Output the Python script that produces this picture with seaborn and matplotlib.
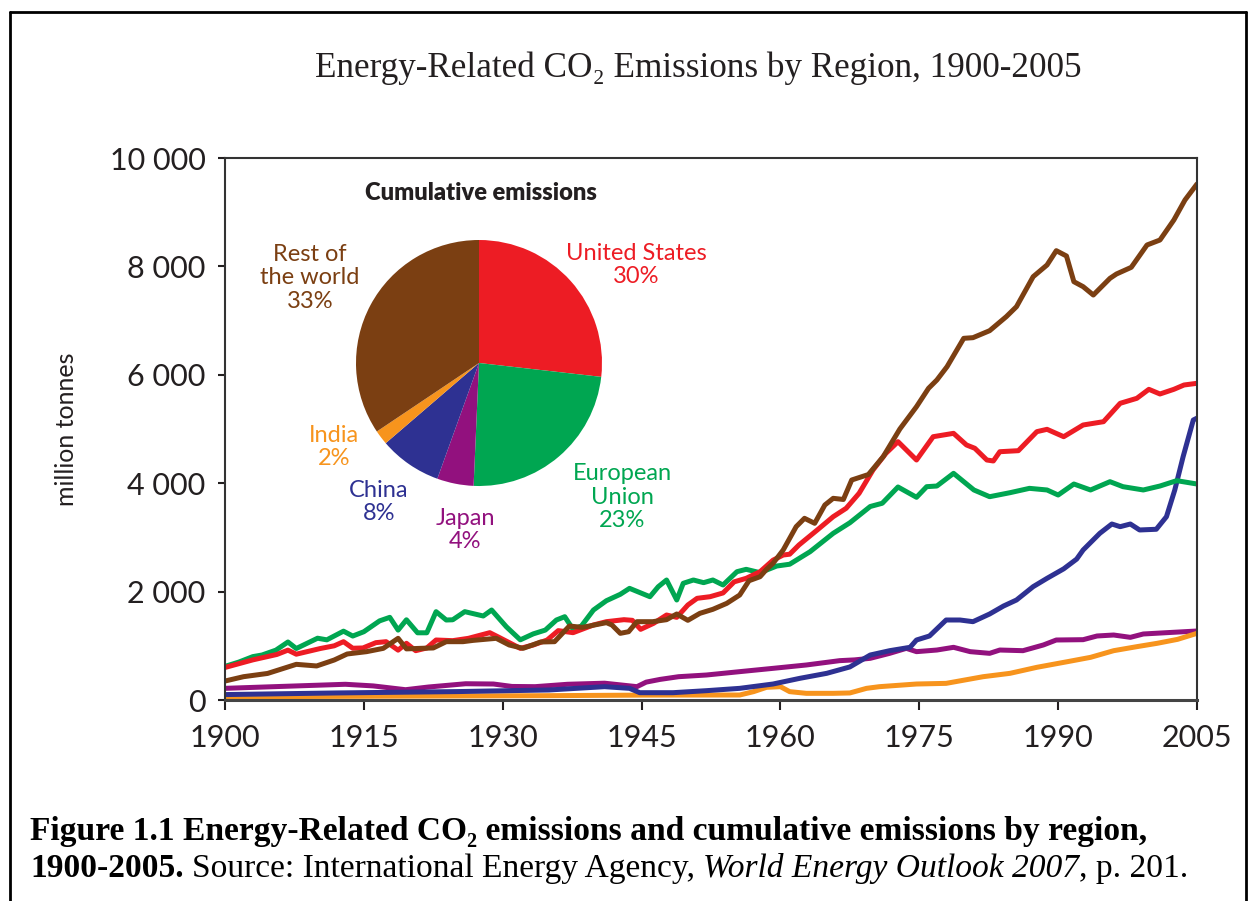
import numpy as np
import pandas as pd
import seaborn as sns
import matplotlib.pyplot as plt
from matplotlib.lines import Line2D

# annual energy-related CO2 emissions, million tonnes
us_years = [1900, 1903, 1905.6, 1906.8, 1907.7, 1910.3, 1911.8, 1912.8, 1913.8, 1914.9, 1916.3, 1917.4,
            1918.7, 1919.6, 1920.6, 1921.8, 1922.8, 1924.6, 1926.3, 1928.6, 1929.6, 1931.9, 1933.3, 1934.8,
            1936, 1937.6, 1939.8, 1941.2, 1943.1, 1944, 1944.9, 1946.3, 1947.7, 1948.8, 1950, 1951,
            1952.4, 1953.8, 1955, 1956.3, 1957.8, 1959.2, 1960.3, 1961, 1962, 1963, 1964, 1965.7, 1967.1,
            1968.5, 1970, 1971.4, 1972.7, 1974.7, 1976.5, 1978.7, 1980.1, 1981, 1982.3, 1983, 1983.7,
            1985.7, 1987.7, 1988.8, 1990.6, 1992.7, 1994.9, 1996.7, 1998.5, 1999.8, 2001, 2002.5, 2003.6, 2005]
us_vals = [600, 740, 840, 920, 845, 950, 1000, 1076, 955, 960, 1058, 1076,
           920, 1046, 910, 960, 1107, 1095, 1138, 1242, 1156, 953, 1015, 1107,
           1280, 1242, 1384, 1445, 1482, 1470, 1304, 1415, 1568, 1525, 1753, 1876,
           1906, 1975, 2180, 2245, 2367, 2580, 2675, 2690, 2860, 3000, 3140, 3382, 3537,
           3814, 4244, 4552, 4766, 4428, 4858, 4920, 4705, 4644, 4428, 4410, 4581,
           4600, 4951, 4994, 4858, 5074, 5135, 5474, 5566, 5732, 5646, 5732, 5812, 5843]

eu_years = [1900, 1901.5, 1903, 1904, 1905.5, 1906.8, 1907.7, 1910, 1911, 1912.8, 1913.8, 1915,
            1916.7, 1917.8, 1918.7, 1919.6, 1920.8, 1921.8, 1922.8, 1923.9, 1924.6, 1925.9, 1927.9,
            1928.8, 1930.4, 1931.9, 1933.3, 1934.6, 1935.8, 1936.7, 1937.6, 1938.5, 1939.8, 1941.2,
            1942.7, 1943.7, 1945.9, 1946.8, 1947.7, 1948.8, 1949.5, 1950.6, 1951.7, 1952.7, 1953.8,
            1955.3, 1956.3, 1957.8, 1959.6, 1961, 1963.2, 1965.7, 1967.5, 1969.7, 1971, 1972.7, 1974.7,
            1975.8, 1976.9, 1978.7, 1980.9, 1982.6, 1984.8, 1986.9, 1988.8, 1990, 1991.7, 1993.5,
            1995.6, 1997, 1999.2, 2001, 2002.8, 2005]
eu_vals = [620, 700, 800, 830, 920, 1070, 950, 1140, 1110, 1270, 1180, 1260,
           1460, 1525, 1290, 1480, 1240, 1240, 1630, 1476, 1480, 1630, 1550,
           1660, 1350, 1110, 1220, 1290, 1476, 1537, 1304, 1365, 1660, 1832,
           1950, 2060, 1906, 2090, 2214, 1845, 2153, 2214, 2165, 2214, 2122,
           2367, 2411, 2349, 2472, 2505, 2736, 3075, 3270, 3570, 3630, 3930, 3740,
           3936, 3948, 4182, 3875, 3751, 3825, 3905, 3875, 3782, 3985, 3875,
           4028, 3936, 3875, 3948, 4047, 3985]

row_years = [1900, 1902, 1904.6, 1907.7, 1909.9, 1911.8, 1913.2, 1915.3, 1917.1, 1918.7, 1919.6,
             1921.1, 1922.5, 1923.9, 1925.7, 1926.8, 1929.3, 1930.7, 1932.2, 1934.1, 1935.6, 1937.2,
             1938.6, 1941.2, 1941.8, 1942.7, 1943.6, 1944.5, 1946.2, 1947.7, 1948.8, 1950, 1951.3,
             1952.7, 1954.2, 1955.6, 1956.6, 1957.8, 1958.5, 1959.2, 1960.3, 1961.7, 1962.6, 1963.7,
             1964.8, 1965.7, 1966.8, 1967.7, 1969.5, 1971.1, 1972.9, 1974.7, 1976, 1976.9, 1978,
             1979.8, 1980.8, 1982.6, 1984.4, 1985.5, 1987.3, 1988.8, 1989.8, 1990.9, 1991.7, 1992.7,
             1993.8, 1995.6, 1996.3, 1997.9, 1999.6, 2001, 2002.5, 2003.7, 2005]
row_vals = [350, 430, 490, 658, 628, 738, 849, 892, 953, 1138, 943,
            953, 960, 1076, 1076, 1100, 1138, 1015, 953, 1070, 1076, 1365,
            1340, 1427, 1384, 1230, 1260, 1445, 1445, 1482, 1587, 1470, 1599,
            1673, 1783, 1937, 2200, 2275, 2411, 2521, 2768, 3198, 3352, 3260,
            3598, 3721, 3700, 4059, 4160, 4489, 5000, 5412, 5751, 5904, 6150,
            6673, 6685, 6814, 7073, 7257, 7810, 8026, 8290, 8192, 7718, 7626,
            7472, 7780, 7860, 7983, 8395, 8487, 8856, 9225, 9520]

japan_years = [1900, 1906, 1913, 1916, 1919.5, 1922, 1926, 1929, 1931, 1933.5, 1937, 1941, 1944.5,
               1945.5, 1947, 1949, 1952, 1955.6, 1959.2, 1962.8, 1966.4, 1968, 1969.7, 1971.8, 1973.6,
               1974.7, 1976.9, 1978.7, 1980.5, 1982.6, 1983.7, 1986.2, 1988.4, 1989.8, 1992.7, 1994.2,
               1996, 1997.8, 1999.2, 2001.7, 2005]
japan_vals = [215, 250, 290, 260, 190, 240, 300, 295, 250, 246, 290, 310, 246,
              330, 380, 430, 461, 523, 584, 646, 726, 740, 769, 861, 953,
              892, 922, 972, 892, 861, 922, 910, 1015, 1107, 1113, 1181,
              1199, 1156, 1218, 1242, 1273]

china_years = [1900, 1912, 1925, 1935, 1941, 1943.7, 1944.8, 1948.4, 1952, 1955.6, 1959.2, 1962.1,
               1965, 1967.5, 1969.7, 1971.8, 1974, 1974.7, 1976.1, 1977.9, 1979.4, 1980.8, 1982.6,
               1984.1, 1985.5, 1987.3, 1988.8, 1990.6, 1992, 1992.7, 1994.5, 1995.8, 1996.7, 1997.8,
               1998.8, 2000.6, 2001.7, 2002.6, 2003.5, 2004.6, 2005]
china_vals = [100, 130, 155, 185, 246, 215, 135, 135, 172, 215, 295, 400,
              492, 610, 830, 910, 972, 1107, 1181, 1476, 1476, 1445, 1587,
              1734, 1845, 2091, 2245, 2420, 2600, 2768, 3075, 3247, 3198, 3247,
              3137, 3150, 3382, 3875, 4489, 5166, 5200]

india_years = [1900, 1935, 1945, 1955.6, 1957.1, 1958.5, 1960, 1961, 1962.8, 1965.7, 1967.5, 1969.3,
               1970.7, 1974.7, 1977.9, 1981.9, 1984.8, 1987.7, 1991, 1993.5, 1996, 1998.5, 2000.7,
               2002.9, 2005]
india_vals = [60, 80, 90, 92, 154, 234, 246, 154, 123, 123, 130, 215,
              246, 295, 307, 430, 492, 603, 707, 787, 910, 984, 1046,
              1119, 1230]

# cumulative emissions pie: slice sizes as drawn, labels as printed
pie_regions = ['United States', 'European Union', 'Japan', 'China', 'India', 'Rest of the world']
pie_shares = [26.8, 23.9, 4.8, 8.2, 1.9, 34.4]
pie_labels = ['United States\n30%', 'European\nUnion\n23%', 'Japan\n4%', 'China\n8%',
              'India\n2%', 'Rest of\nthe world\n33%']

palette = {
    'United States': '#ED1C24',
    'European Union': '#00A651',
    'Japan': '#92117E',
    'China': '#2E3192',
    'India': '#F7941D',
    'Rest of the world': '#7B3F12',
}

series = {
    'Japan': (japan_years, japan_vals),
    'India': (india_years, india_vals),
    'China': (china_years, china_vals),
    'European Union': (eu_years, eu_vals),
    'United States': (us_years, us_vals),
    'Rest of the world': (row_years, row_vals),
}
frames = [pd.DataFrame({'year': y, 'value': v, 'region': name}) for name, (y, v) in series.items()]
df = pd.concat(frames, ignore_index=True)

sns.set_style('ticks')
plt.rcParams['font.family'] = ['Lato', 'DejaVu Sans']

W, H = 1249, 901
fig = plt.figure(figsize=(W / 100, H / 100), dpi=100)
ax = fig.add_axes([225 / W, 1 - 700 / H, 972 / W, 542 / H])

sns.lineplot(data=df, x='year', y='value', hue='region', hue_order=list(series.keys()),
             palette=palette, estimator=None, sort=False, linewidth=3.6, legend=False, ax=ax)

ax.set_xlim(1900, 2005)
ax.set_ylim(0, 10000)
ax.set_xticks(range(1900, 2006, 15))
ax.set_yticks(range(0, 10001, 2000))
ax.set_yticklabels(['0', '2 000', '4 000', '6 000', '8 000', '10 000'])
ax.set_xlabel('')
ax.set_ylabel('million tonnes', fontsize=18, color='#231F20')
ax.yaxis.set_label_coords((78 - 225) / 972, 0.5)
ax.tick_params(axis='both', labelsize=22, colors='#231F20', width=1.5, direction='out')
ax.tick_params(axis='y', length=5, pad=9)
ax.tick_params(axis='x', length=7, pad=10)
for side in ['left', 'top', 'right']:
    ax.spines[side].set_color('#333333')
    ax.spines[side].set_linewidth(1.5)
ax.spines['bottom'].set_color('#444444')
ax.spines['bottom'].set_linewidth(2.2)

# inset pie
pr = 123
pax = fig.add_axes([(479 - pr) / W, 1 - (363 + pr) / H, 2 * pr / W, 2 * pr / H])
pax.pie(pie_shares, colors=[palette[r] for r in pie_regions], startangle=90, counterclock=False,
        wedgeprops=dict(linewidth=0))
pax.set_xlim(-1, 1)
pax.set_ylim(-1, 1)

fig.text(481 / W, 1 - 193 / H, 'Cumulative emissions', fontsize=17, fontweight='heavy',
         color='#231F20', ha='center', va='center')
label_pos = {
    'United States': (636, 265),
    'European Union': (622, 497),
    'Japan': (465, 530),
    'China': (379, 502),
    'India': (334, 447),
    'Rest of the world': (310, 278),
}
for name, text in zip(pie_regions, pie_labels):
    x, y = label_pos[name]
    fig.text(x / W, 1 - y / H, text, fontsize=17, color=palette[name], ha='center', va='center',
             linespacing=1.15, multialignment='center')

serif = ['Liberation Serif', 'DejaVu Serif']
fig.canvas.draw()
r = fig.canvas.get_renderer()

title = fig.text(698 / W, 1 - 77 / H, 'Energy-Related CO\u2082 Emissions by Region, 1900-2005',
                 family=serif, fontsize=26, color='#231F20', ha='center', va='baseline')
title.set_fontsize(26 * 767 / title.get_window_extent(r).width)

cap1 = fig.text(30 / W, 1 - 840 / H,
                'Figure 1.1 Energy-Related CO\u2082 emissions and cumulative emissions by region,',
                family=serif, fontsize=20, fontweight='bold', color='black', ha='left', va='baseline')
cs = 20 * 1115 / cap1.get_window_extent(r).width
cap1.set_fontsize(cs)

gap = 0.25 * cs * 100 / 72
pieces = [('1900-2005.', 'normal', 'bold', gap),
          ('Source: International Energy Agency,', 'normal', 'normal', gap),
          ('World Energy Outlook 2007', 'italic', 'normal', 0),
          (', p. 201.', 'normal', 'normal', 0)]
xp = 30
for s, st, wt, g in pieces:
    t = fig.text(xp / W, 1 - 877 / H, s, family=serif, fontsize=cs, fontstyle=st, fontweight=wt,
                 color='black', ha='left', va='baseline')
    xp = t.get_window_extent(r).x1 + g

# frame around the figure
frame_kw = dict(color='black', linewidth=2, transform=fig.transFigure)
fig.add_artist(Line2D([10 / W, 10 / W], [0, 1 - 12 / H], **frame_kw))
fig.add_artist(Line2D([10 / W, 1246 / W], [1 - 12 / H, 1 - 12 / H], **frame_kw))
fig.add_artist(Line2D([1246 / W, 1246 / W], [0, 1 - 12 / H], **frame_kw))

fig.savefig('out.png', dpi=100)
